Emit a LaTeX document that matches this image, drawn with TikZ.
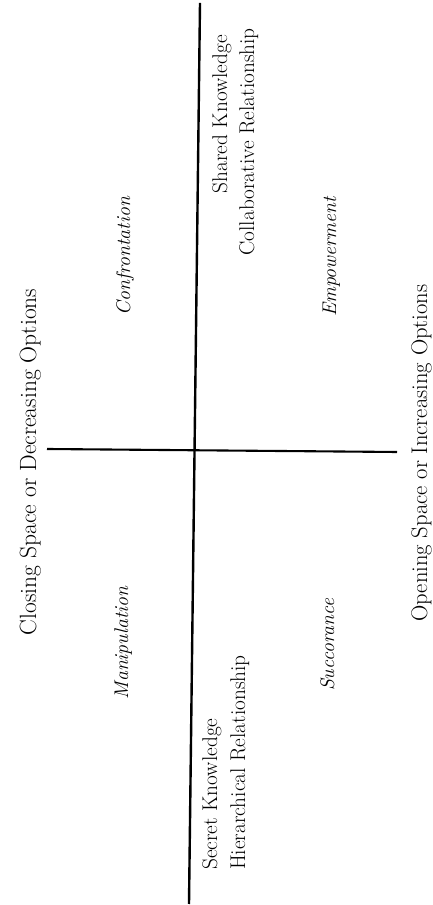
\documentclass[tikz,border=0pt]{standalone}
\usepackage{fontspec}
\begin{document}
\begin{tikzpicture}[x=1pt,y=1pt,
  axisline/.style={line width=2.4pt, black},
  axislbl/.style={rotate=90, inner sep=0pt, font=\fontsize{23.5}{28}\selectfont},
  quadlbl/.style={rotate=90, inner sep=0pt, font=\fontsize{19.8}{24}\selectfont\itshape},
  knowlbl/.style={rotate=90, inner sep=0pt, font=\fontsize{21.3}{26}\selectfont}]
\useasboundingbox[fill=white] (0,0) rectangle (432,905);
% axes
\coordinate (vtop) at (200,902);
\coordinate (vbot) at (189,1);
\coordinate (hleft) at (47,456);
\coordinate (hright) at (397,453);
\draw[axisline] (vtop) -- (vbot);
\draw[axisline, line width=2.1pt] (hleft) -- (hright);
% axis labels
\node[axislbl, anchor=base] (closing) at (36,443) {Closing Space or Decreasing Options};
\node[axislbl, anchor=base, font=\fontsize{22.6}{27}\selectfont] (opening) at (427,452) {Opening Space or Increasing Options};
% quadrant labels
\node[quadlbl, anchor=base] (confr) at (130,649) {Confrontation};
\node[quadlbl, anchor=base] (empow) at (336,648) {Empowerment};
\node[quadlbl, anchor=base] (manip) at (128,262) {Manipulation};
\node[quadlbl, anchor=base] (succ) at (334,260) {Succorance};
% knowledge labels
\node[knowlbl, anchor=base east] (shared) at (227,870) {Shared Knowledge};
\node[knowlbl, anchor=base east] (collab) at (254,877) {Collaborative Relationship};
\node[knowlbl, anchor=base west] (secret) at (217,35) {Secret Knowledge};
\node[knowlbl, anchor=base west] (hier) at (245,35) {Hierarchical Relationship};
\end{tikzpicture}
\end{document}
